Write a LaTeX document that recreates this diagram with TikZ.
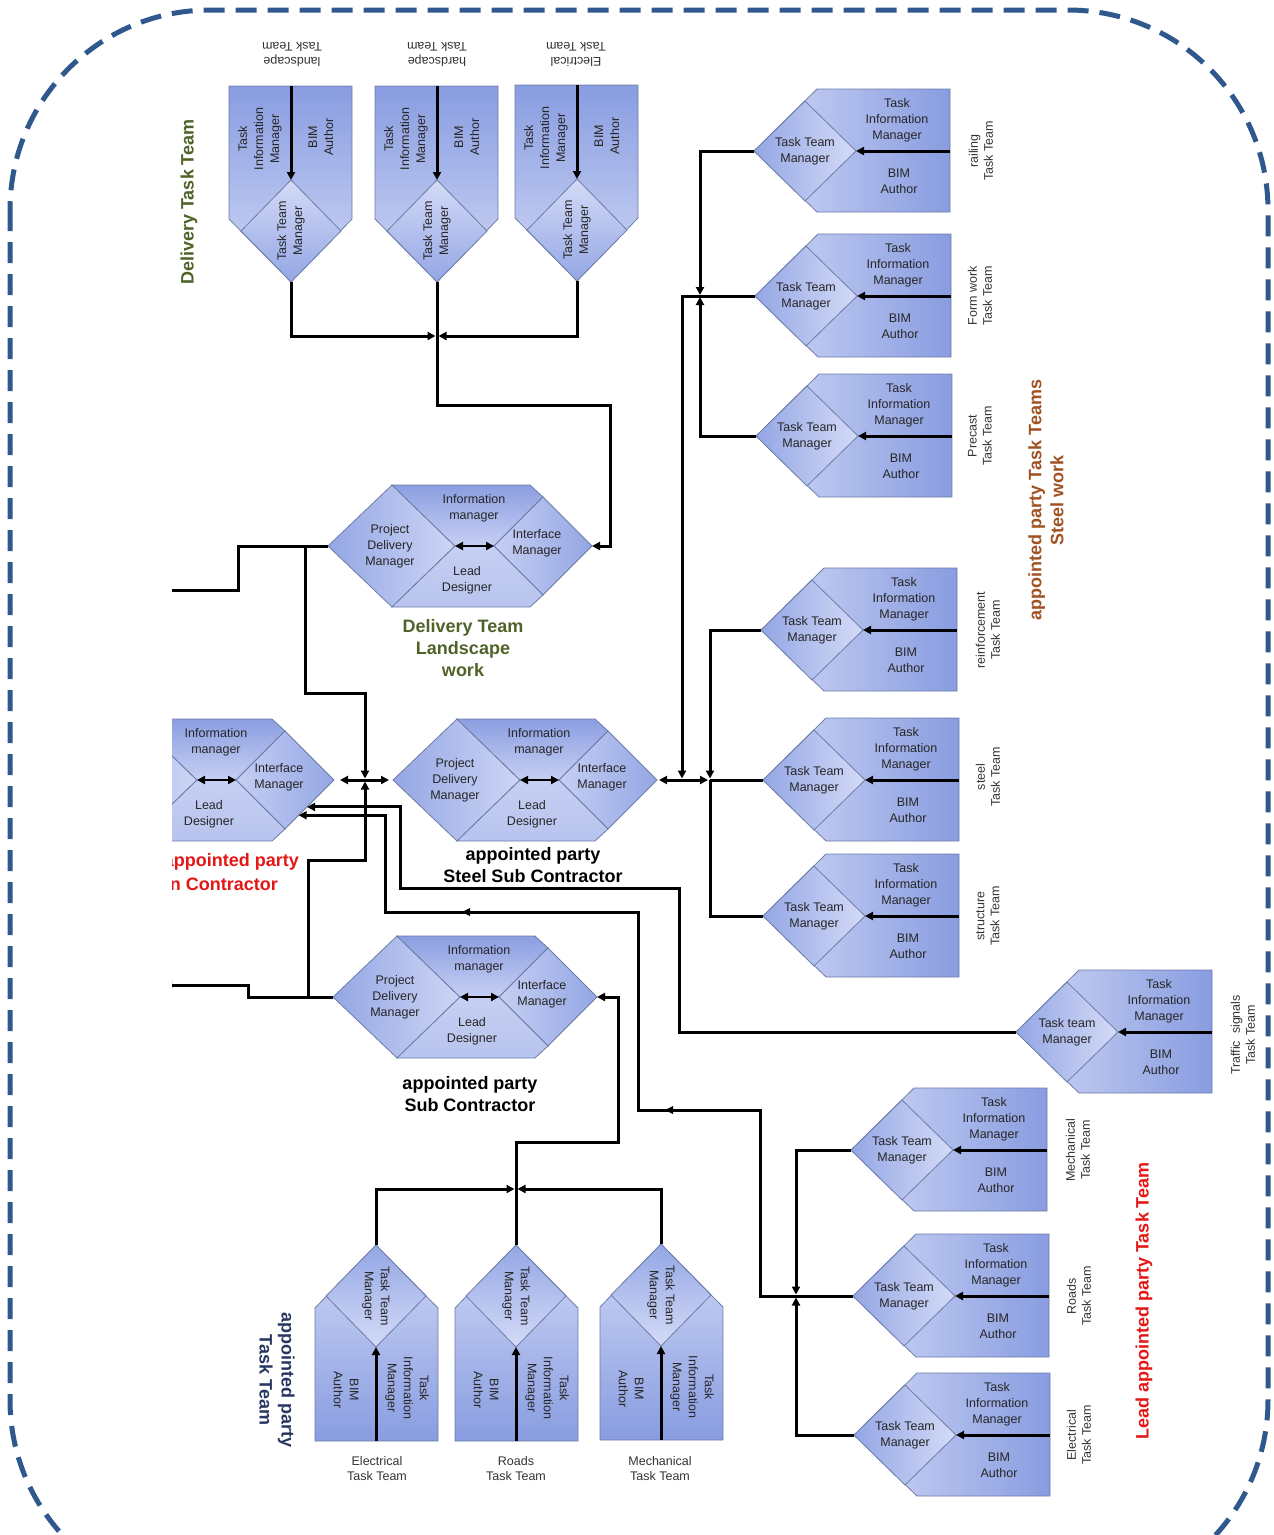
\documentclass[tikz,border=0pt]{standalone}
\usepackage{fontspec}
\setmainfont{Liberation Sans}
\usetikzlibrary{arrows.meta,calc}

\definecolor{tlight}{RGB}{208,216,246}
\definecolor{tdark}{RGB}{136,156,224}
\definecolor{dlight}{RGB}{212,219,247}
\definecolor{ddark}{RGB}{148,166,228}
\definecolor{hA}{RGB}{148,166,228}
\definecolor{hB}{RGB}{206,214,245}
\definecolor{hC}{RGB}{140,158,225}
\definecolor{hD}{RGB}{198,207,243}
\definecolor{hE}{RGB}{184,196,238}
\definecolor{edgec}{RGB}{108,124,168}
\definecolor{framec}{RGB}{47,88,140}
\definecolor{olive}{RGB}{79,98,40}
\definecolor{rust}{RGB}{160,82,35}
\definecolor{leadred}{RGB}{228,22,22}
\definecolor{navy}{RGB}{40,54,98}

\tikzset{
  link/.style={line width=3pt, black},
  tipend/.style={-{Triangle[length=8pt,width=8pt]}},
  tipstart/.style={{Triangle[length=8pt,width=8pt]}-},
  tipboth/.style={{Triangle[length=8pt,width=8pt]}-{Triangle[length=8pt,width=8pt]}},
  cell/.style={draw=edgec, line width=0.8pt},
  small/.style={font=\fontsize{12.5}{16}\selectfont, align=center, inner sep=0pt, text=black!85},
  tag/.style={font=\fontsize{12.5}{15}\selectfont, align=center, inner sep=0pt, text=black!80},
  head/.style={font=\fontsize{18}{22}\selectfont\bfseries, align=center, inner sep=0pt},
  pics/arrowmark/.style={code={\fill (0,0) -- (-8,-4) -- (-8,4) -- cycle;}}
}

% Task team: Task Team Manager diamond at the tip, information manager
% and BIM author behind it; #4 turns the whole group about its tip
\newcommand\taskteam[5]{%
  \begin{scope}[shift={(#2,#3)}, rotate=#4]
    \pgfmathsetmacro\shadeang{#4+90}
    \coordinate (#1-tip) at (0,0);
    \coordinate (#1-in) at (196,0);
    \path[cell, top color=tlight, bottom color=tdark, shading angle=\shadeang]
      (0,0) -- (63,-62) -- (196,-62) -- (196,61) -- (63,61) -- cycle;
    \path[cell, top color=ddark, bottom color=dlight, shading angle=\shadeang]
      (0,0) -- (51,-50) -- (102,0) -- (51,50) -- cycle;
    \draw[link, tipend] (#1-in) -- (102,0);
    \node[small, transform shape] (#1-ttm) at (51,0) {#5};
    \node[small, transform shape] (#1-tim) at (143,-31) {Task\\Information\\Manager};
    \node[small, transform shape] (#1-bim) at (145,30) {BIM\\Author};
  \end{scope}}

% Appointed party: four role cells in a hexagon
\newcommand\hexteam[3]{%
  \begin{scope}[shift={(#2,#3)}]
    \coordinate (#1-L) at (0,0);
    \coordinate (#1-R) at (264,0);
    \coordinate (#1-c1) at (127,0);
    \coordinate (#1-c2) at (166,0);
    \coordinate (#1-ib) at (215,49);
    \path[cell, left color=hA, right color=hB]
      (0,0) -- (64,-61) -- (127,0) -- (64,61) -- cycle;
    \path[cell, top color=hC, bottom color=hD]
      (64,-61) -- (202,-61) -- (215,-49) -- (166,0) -- (127,0) -- cycle;
    \path[cell, left color=hD, right color=hA]
      (166,0) -- (215,-49) -- (264,0) -- (215,49) -- cycle;
    \path[cell, top color=hD, bottom color=hE]
      (64,61) -- (127,0) -- (166,0) -- (215,49) -- (202,61) -- cycle;
    \draw[line width=2.6pt, tipboth] (#1-c1) -- (#1-c2);
    \node[small] (#1-pdm) at (62,0) {Project\\Delivery\\Manager};
    \node[small] (#1-im) at (146,-38) {Information\\manager};
    \node[small] (#1-ifm) at (209,-3) {Interface\\Manager};
    \node[small] (#1-ld) at (139,34) {Lead\\Designer};
  \end{scope}}

\begin{document}
\begin{tikzpicture}[x=1pt, y=-1pt]
\useasboundingbox (0,0) rectangle (1274,1535);

% dashed frame
\begin{scope}
  \clip (0,0) rectangle (1274,1535);
  \draw[framec, line width=5pt, dash pattern=on 21pt off 11pt, rounded corners=200pt]
    (10,10) rectangle (1268,1600);
\end{scope}

\begin{scope}
\clip (172,0) rectangle (1274,1535);

% ---------- appointed parties ----------
\hexteam{lead}{70}{780}
\hexteam{land}{328}{546}
\hexteam{steelsc}{393}{780}
\hexteam{subc}{333}{997}

% ---------- delivery task teams (top) ----------
\taskteam{tland}{291}{282}{90}{Task Team\\Manager}
\taskteam{thard}{437}{282}{90}{Task Team\\Manager}
\taskteam{telec}{577}{281}{90}{Task Team\\Manager}

% ---------- steel work task teams ----------
\taskteam{rail}{754}{151}{0}{Task Team\\Manager}
\taskteam{form}{755}{296}{0}{Task Team\\Manager}
\taskteam{pre}{756}{436}{0}{Task Team\\Manager}
\taskteam{reinf}{761}{630}{0}{Task Team\\Manager}
\taskteam{steel}{763}{780}{0}{Task Team\\Manager}
\taskteam{struct}{763}{916}{0}{Task Team\\Manager}
\taskteam{traffic}{1016}{1032}{0}{Task team\\Manager}

% ---------- lead appointed party task teams ----------
\taskteam{lmech}{851}{1150}{0}{Task Team\\Manager}
\taskteam{lroads}{853}{1296}{0}{Task Team\\Manager}
\taskteam{lelec}{854}{1435}{0}{Task Team\\Manager}

% ---------- appointed party task teams (bottom) ----------
\taskteam{belec}{376}{1245}{-90}{Task Team\\Manager}
\taskteam{broads}{516}{1245}{-90}{Task Team\\Manager}
\taskteam{bmech}{661}{1244}{-90}{Task Team\\Manager}

% ---------- team labels ----------
\node[tag, rotate=180] (lab-tland) at (292,54) {landscape\\Task Team};
\node[tag, rotate=180] (lab-thard) at (437,54) {hardscape\\Task Team};
\node[tag, rotate=180] (lab-telec) at (576,54) {Electrical\\Task Team};
\node[tag, rotate=90] (lab-rail) at (981,151) {railing\\Task Team};
\node[tag, rotate=90] (lab-form) at (980,296) {Form work\\Task Team};
\node[tag, rotate=90] (lab-pre) at (980,436) {Precast\\Task Team};
\node[tag, rotate=90] (lab-reinf) at (988,630) {reinforcement\\Task Team};
\node[tag, rotate=90] (lab-steel) at (988,777) {steel\\Task Team};
\node[tag, rotate=90] (lab-struct) at (988,916) {structure\\Task Team};
\node[tag, rotate=90] (lab-traffic) at (1243,1035) {Traffic\ \ signals\\Task Team};
\node[tag, rotate=90] (lab-lmech) at (1078,1150) {Mechanical\\Task Team};
\node[tag, rotate=90] (lab-lroads) at (1079,1296) {Roads\\Task Team};
\node[tag, rotate=90] (lab-lelec) at (1079,1435) {Electrical\\Task Team};
\node[tag] (lab-belec) at (377,1469) {Electrical\\Task Team};
\node[tag] (lab-broads) at (516,1469) {Roads\\Task Team};
\node[tag] (lab-bmech) at (660,1469) {Mechanical\\Task Team};

% ---------- group headings ----------
\node[head, olive, rotate=90] (h-dtt) at (189,202) {Delivery Task Team};
\node[head, rust, rotate=90] (h-steelwork) at (1046,500) {appointed party Task Teams\\Steel work};
\node[head, leadred, rotate=90] (h-lead) at (1144,1301) {Lead appointed party Task Team};
\node[head, navy, rotate=-90] (h-aptt) at (277,1380) {appointed party\\Task Team};
\node[head, olive] (h-land) at (463,648) {Delivery Team\\Landscape\\work};
\node[head] (h-steelsc) at (533,865) {appointed party\\Steel Sub Contractor};
\node[head] (h-subc) at (470,1094) {appointed party\\Sub Contractor};
\node[head, leadred, anchor=east] (h-main1) at (299,862) {appointed party};
\node[head, leadred, anchor=east] (h-main2) at (278,884) {Main Contractor};

% ---------- connectors ----------
% delivery task teams to the landscape delivery team
\coordinate (jtop) at (437,336);
\draw[link, tipend, shorten >=1.5pt] (tland-tip) |- (jtop);
\draw[link, tipend, shorten >=1.5pt] (telec-tip) |- (jtop);
\draw[link, tipend] (thard-tip) |- (610,405) |- (land-R);

% landscape delivery team to the lead appointed party
\draw[link] (land-L) -| (238,590) -- (150,590);
\coordinate (b1) at (305,546);
\coordinate (jmid) at (365,780);
\draw[link, tipend, shorten >=1.5pt] (b1) -- (305,693) -| (jmid);
\draw[link, tipboth, shorten <=6pt, shorten >=4pt] (lead-R) -- (steelsc-L);

% sub contractor to the lead appointed party
\draw[link, tipend] (subc-L) -| (248,985) -- (164,985);
\coordinate (b3) at (308,997);
\draw[link, tipend, shorten >=1.5pt] (b3) -- (308,860) -| (jmid);

% lead appointed party task teams and traffic signals
\coordinate (lead-in1) at ($(lead-R)!0.55!(lead-ib)$);
\coordinate (lead-in2) at ($(lead-R)!0.72!(lead-ib)$);
\draw[link, tipstart] (lead-in1) -| (400,888) -| (679,1032) -- (traffic-tip);
\draw[link, tipstart] (lead-in2) -| (385,912) -| (638,1110) -| (760,1296) -- (lroads-tip);
\pic[rotate=180] at (462,912) {arrowmark};
\pic[rotate=180] at (665,1110) {arrowmark};
\coordinate (jlead) at (796,1296);
\draw[link, tipend, shorten >=1.5pt] (lmech-tip) -| (jlead);
\draw[link, tipend, shorten >=1.5pt] (lelec-tip) -| (jlead);

% bottom task teams to the sub contractor
\coordinate (jbot) at (516,1189);
\draw[link, tipend, shorten >=1.5pt] (belec-tip) |- (jbot);
\draw[link, tipend, shorten >=1.5pt] (bmech-tip) |- (jbot);
\draw[link, tipend] (broads-tip) |- (618,1142) |- (subc-R);

% steel work task teams to the steel sub contractor
\coordinate (jform) at (700,296);
\draw[link, tipend, shorten >=1pt] (rail-tip) -| (jform);
\draw[link, tipend, shorten >=1pt] (pre-tip) -| (jform);
\coordinate (jsa) at (682,780);
\coordinate (jsb) at (710,780);
\draw[link, tipend, shorten >=1.5pt] (form-tip) -| (jsa);
\draw[link, tipend, shorten >=1.5pt] (reinf-tip) -| (jsb);
\draw[link] (struct-tip) -| (jsb);
\draw[link] (steel-tip) -- (jsb);
\draw[link, tipboth, shorten >=2pt, shorten <=2pt] (steelsc-R) -- (jsb);
\end{scope}

\end{tikzpicture}
\end{document}
